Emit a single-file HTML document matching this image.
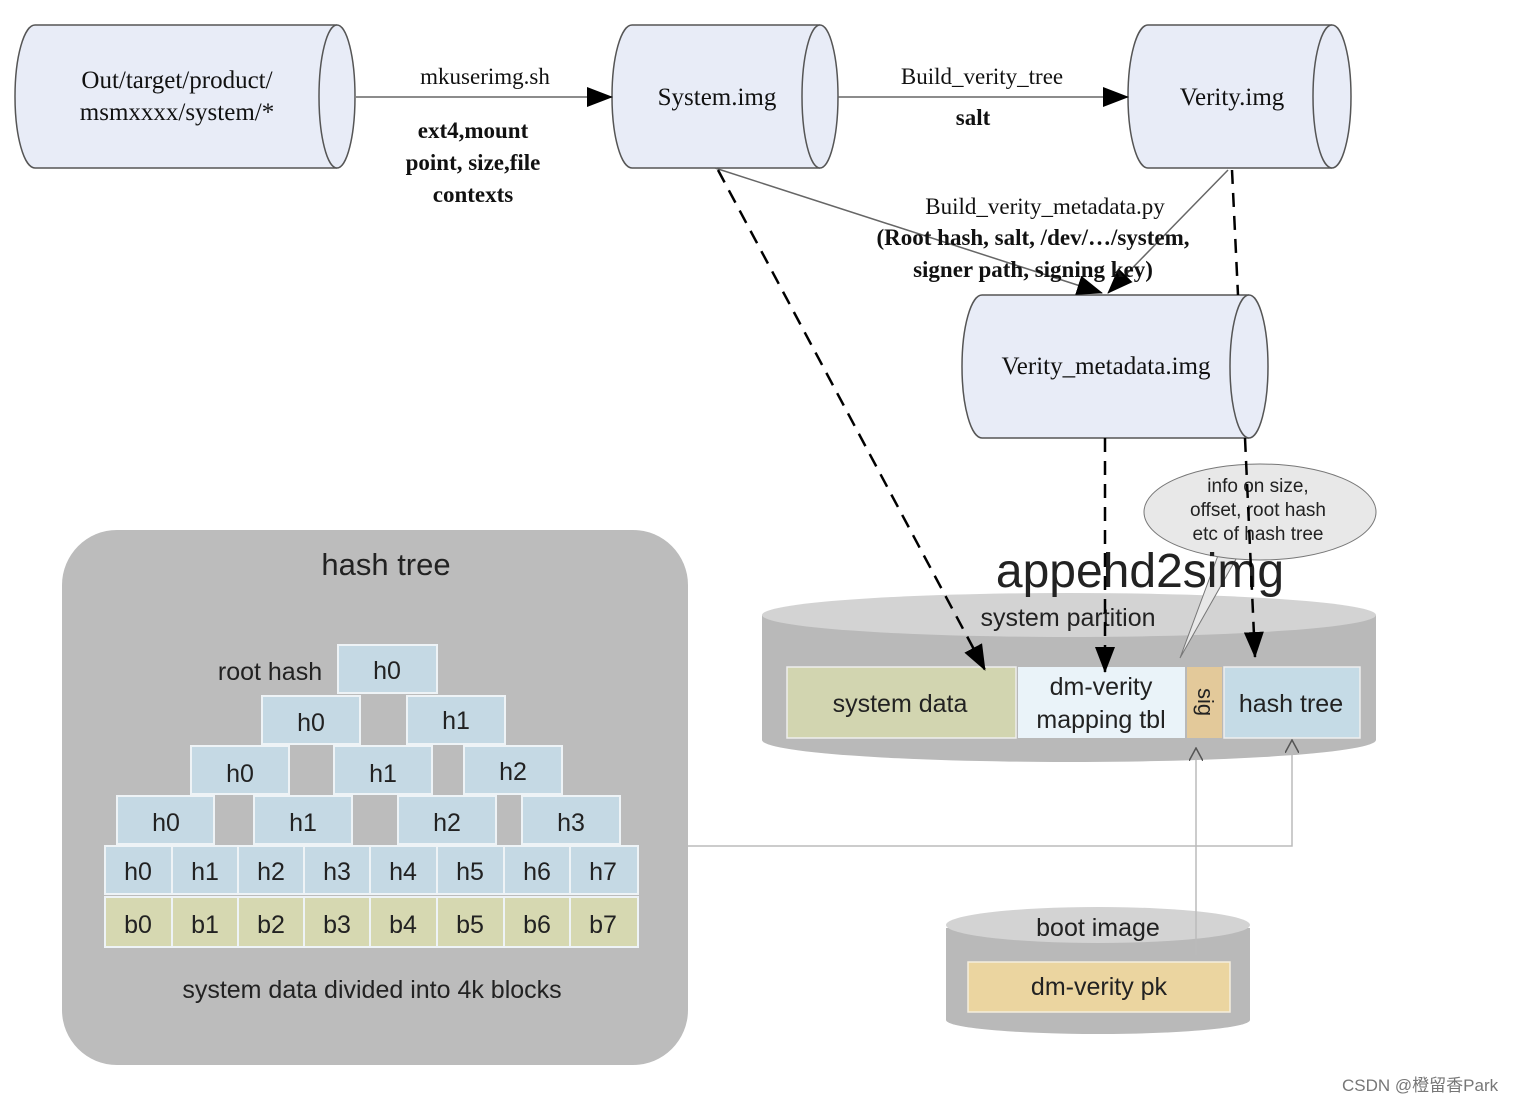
<!DOCTYPE html>
<html><head><meta charset="utf-8"><style>
html,body{margin:0;padding:0;background:#fff;}
svg{display:block;}
.s{font-family:"Liberation Serif",serif;fill:#111;}
.a{font-family:"Liberation Sans",sans-serif;fill:#222;}
</style></head><body>
<svg width="1522" height="1104" viewBox="0 0 1522 1104" xmlns="http://www.w3.org/2000/svg">
<defs>
<marker id="ar2" markerWidth="26" markerHeight="20" refX="25" refY="10" orient="auto" markerUnits="userSpaceOnUse" viewBox="0 0 26 20"><path d="M0,0 L26,10 L0,20 z" fill="#000"/></marker>
<marker id="op" markerWidth="14" markerHeight="14" refX="13" refY="7" orient="auto" markerUnits="userSpaceOnUse" viewBox="0 0 14 14"><path d="M0,0 L13,7 L0,14" fill="none" stroke="#555" stroke-width="1.5"/></marker>
</defs>

<g fill="#e8ecf7" stroke="#555" stroke-width="1.5">
<path d="M35,25 L337,25 A18,71.5 0 0 1 337,168 L35,168 A20,71.5 0 0 1 35,25 z"/>
<path d="M337,25 A18,71.5 0 0 0 337,168"/>
<path d="M632,25 L820,25 A18,71.5 0 0 1 820,168 L632,168 A20,71.5 0 0 1 632,25 z"/>
<path d="M820,25 A18,71.5 0 0 0 820,168"/>
<path d="M1148,25 L1332,25 A19,71.5 0 0 1 1332,168 L1148,168 A20,71.5 0 0 1 1148,25 z"/>
<path d="M1332,25 A19,71.5 0 0 0 1332,168"/>
<path d="M982,295 L1249,295 A19,71.5 0 0 1 1249,438 L982,438 A20,71.5 0 0 1 982,295 z"/>
<path d="M1249,295 A19,71.5 0 0 0 1249,438"/>
</g>
<text class="s" font-size="25" text-anchor="middle" x="177" y="88">Out/target/product/</text>
<text class="s" font-size="25" text-anchor="middle" x="177" y="120">msmxxxx/system/*</text>
<text class="s" font-size="25" text-anchor="middle" x="717" y="105">System.img</text>
<text class="s" font-size="25" text-anchor="middle" x="1232" y="105">Verity.img</text>
<text class="s" font-size="25" text-anchor="middle" x="1106" y="374">Verity_metadata.img</text>

<g stroke="#666" stroke-width="1.5" fill="none">
<line x1="356" y1="97" x2="612" y2="97" marker-end="url(#ar2)"/>
<line x1="838" y1="97" x2="1128" y2="97" marker-end="url(#ar2)"/>
<line x1="715" y1="168" x2="1102" y2="293" marker-end="url(#ar2)"/>
<line x1="1228" y1="170" x2="1108" y2="293" marker-end="url(#ar2)"/>
</g>
<text class="s" font-size="23" text-anchor="middle" x="485" y="84">mkuserimg.sh</text>
<text class="s" font-size="23" font-weight="bold" text-anchor="middle" x="473" y="138">ext4,mount</text>
<text class="s" font-size="23" font-weight="bold" text-anchor="middle" x="473" y="170">point, size,file</text>
<text class="s" font-size="23" font-weight="bold" text-anchor="middle" x="473" y="202">contexts</text>
<text class="s" font-size="23" text-anchor="middle" x="982" y="84">Build_verity_tree</text>
<text class="s" font-size="23" font-weight="bold" text-anchor="middle" x="973" y="125">salt</text>
<text class="s" font-size="23" text-anchor="middle" x="1045" y="214">Build_verity_metadata.py</text>
<text class="s" font-size="23" font-weight="bold" text-anchor="middle" x="1033" y="245">(Root hash, salt, /dev/…/system,</text>
<text class="s" font-size="23" font-weight="bold" text-anchor="middle" x="1033" y="277">signer path, signing key)</text>

<rect x="62" y="530" width="626" height="535" rx="55" fill="#bcbcbc"/>
<text class="a" font-size="31" text-anchor="middle" x="386" y="575">hash tree</text>
<text class="a" font-size="25" text-anchor="middle" x="270" y="680">root hash</text>
<g fill="#c5d9e4" stroke="#eef3f6" stroke-width="2">
<rect x="338" y="645" width="99" height="48"/>
<rect x="262" y="696" width="98" height="48"/><rect x="407" y="696" width="98" height="48"/>
<rect x="191" y="746" width="98" height="48"/><rect x="334" y="746" width="98" height="48"/><rect x="464" y="746" width="98" height="48"/>
<rect x="117" y="796" width="97" height="48"/><rect x="254" y="796" width="98" height="48"/><rect x="398" y="796" width="98" height="48"/><rect x="522" y="796" width="98" height="48"/>
<rect x="105" y="846" width="67" height="48"/><rect x="172" y="846" width="66" height="48"/><rect x="238" y="846" width="66" height="48"/><rect x="304" y="846" width="66" height="48"/><rect x="370" y="846" width="67" height="48"/><rect x="437" y="846" width="67" height="48"/><rect x="504" y="846" width="66" height="48"/><rect x="570" y="846" width="68" height="48"/>
</g>
<g fill="#d6d8b1" stroke="#eef3f6" stroke-width="2">
<rect x="105" y="897" width="67" height="50"/><rect x="172" y="897" width="66" height="50"/><rect x="238" y="897" width="66" height="50"/><rect x="304" y="897" width="66" height="50"/><rect x="370" y="897" width="67" height="50"/><rect x="437" y="897" width="67" height="50"/><rect x="504" y="897" width="66" height="50"/><rect x="570" y="897" width="68" height="50"/>
</g>
<g class="a" font-size="25" text-anchor="middle">
<text x="387" y="679">h0</text>
<text x="311" y="731">h0</text><text x="456" y="729">h1</text>
<text x="240" y="782">h0</text><text x="383" y="782">h1</text><text x="513" y="780">h2</text>
<text x="166" y="831">h0</text><text x="303" y="831">h1</text><text x="447" y="831">h2</text><text x="571" y="831">h3</text>
<text x="138" y="880">h0</text><text x="205" y="880">h1</text><text x="271" y="880">h2</text><text x="337" y="880">h3</text><text x="403" y="880">h4</text><text x="470" y="880">h5</text><text x="537" y="880">h6</text><text x="603" y="880">h7</text>
<text x="138" y="933">b0</text><text x="205" y="933">b1</text><text x="271" y="933">b2</text><text x="337" y="933">b3</text><text x="403" y="933">b4</text><text x="470" y="933">b5</text><text x="537" y="933">b6</text><text x="603" y="933">b7</text>
</g>
<text class="a" font-size="25" text-anchor="middle" x="372" y="998">system data divided into 4k blocks</text>

<path d="M762,615 L762,740 A307,22 0 0 0 1376,740 L1376,615 z" fill="#b9b9b9"/>
<ellipse cx="1069" cy="615" rx="307" ry="22" fill="#d3d3d3"/>
<text class="a" font-size="25" text-anchor="middle" x="1068" y="626">system partition</text>
<rect x="787" y="667" width="229" height="71" fill="#d2d5b0" stroke="#eee" stroke-width="1.5"/>
<rect x="1018" y="667" width="167" height="71" fill="#eaf3f9"/>
<rect x="1187" y="667" width="35" height="71" fill="#e3c99a"/>
<rect x="1224" y="667" width="136" height="71" fill="#c5dbe6" stroke="#eee" stroke-width="1.5"/>
<text class="a" font-size="25" text-anchor="middle" x="900" y="712">system data</text>
<text class="a" font-size="25" text-anchor="middle" x="1101" y="695">dm-verity</text>
<text class="a" font-size="25" text-anchor="middle" x="1101" y="728">mapping tbl</text>
<text class="a" font-size="22" text-anchor="middle" transform="translate(1198,702) rotate(90)">sig</text>
<text class="a" font-size="25" text-anchor="middle" x="1291" y="712">hash tree</text>

<path d="M946,928 L946,1020 A152,14 0 0 0 1250,1020 L1250,928 z" fill="#b9b9b9"/>
<ellipse cx="1098" cy="925" rx="152" ry="18" fill="#d3d3d3"/>
<text class="a" font-size="25" text-anchor="middle" x="1098" y="936">boot image</text>
<rect x="968" y="962" width="262" height="50" fill="#ebd5a0" stroke="#f4eedd" stroke-width="1.5"/>
<text class="a" font-size="25" text-anchor="middle" x="1099" y="995">dm-verity pk</text>

<polyline points="688,846 1292,846 1292,740" fill="none" stroke="#bbb" stroke-width="1.5" marker-end="url(#op)"/>
<line x1="1196" y1="955" x2="1196" y2="748" stroke="#bbb" stroke-width="1.5" marker-end="url(#op)"/>

<path d="M1220,550 L1180,658 L1240,552 z" fill="#e8e8e8" stroke="#777" stroke-width="1"/>
<ellipse cx="1260" cy="512" rx="116" ry="48" fill="#e8e8e8" stroke="#777" stroke-width="1"/>
<g class="a" font-size="19" text-anchor="middle">
<text x="1258" y="492">info on size,</text>
<text x="1258" y="516">offset, root hash</text>
<text x="1258" y="540">etc of hash tree</text>
</g>
<text class="a" font-size="48" text-anchor="middle" x="1140" y="587" fill="#333">appehd2simg</text>

<g stroke="#000" stroke-width="2.5" stroke-dasharray="14,9" fill="none">
<line x1="718" y1="170" x2="985" y2="670" marker-end="url(#ar2)"/>
<line x1="1105" y1="438" x2="1105" y2="672" marker-end="url(#ar2)"/>
<line x1="1232" y1="170" x2="1238" y2="295"/>
<line x1="1245" y1="438" x2="1255" y2="657" marker-end="url(#ar2)"/>
</g>

<text font-family="Liberation Sans, Noto Sans CJK SC, sans-serif" font-size="17" fill="#777" x="1342" y="1091">CSDN @橙留香Park</text>
</svg>
</body></html>
